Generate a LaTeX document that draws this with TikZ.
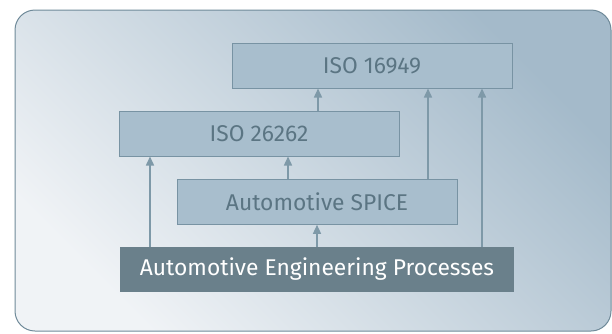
\documentclass[tikz,border=0pt]{standalone}
\usepackage{fontspec}
\setmainfont{Fira Sans}
\usetikzlibrary{arrows.meta,positioning}

\definecolor{frameline}{HTML}{6F8A99}
\definecolor{bglight}{HTML}{F0F3F6}
\definecolor{bgdark}{HTML}{A4BACA}
\definecolor{boxfill}{HTML}{A8BECD}
\definecolor{boxline}{HTML}{7893A3}
\definecolor{boxtext}{HTML}{5B7583}
\definecolor{basefill}{HTML}{6A808B}
\definecolor{arrowcol}{HTML}{7E99A8}

\begin{document}
\begin{tikzpicture}[
        x=1pt, y=-1pt,
        every node/.style={inner sep=0pt, align=center, font=\fontsize{22.8}{27}\selectfont},
        stdbox/.style={draw=boxline, line width=1pt, fill=boxfill, text=boxtext, minimum width=280pt, minimum height=45pt},
        basebox/.style={fill=basefill, text=white, minimum width=394pt, minimum height=45pt},
        arr/.style={draw=arrowcol, line width=1.5pt, -{Triangle[width=8pt,length=9pt]}}
    ]

    \useasboundingbox (0,0) rectangle (612,333);

    % Background
    \shade[draw=frameline, line width=1pt, rounded corners=20pt, shading=axis,
        top color=bgdark, bottom color=bglight, shading angle=-45]
        (15,10) rectangle (611,331);

    % Nodes
    \node (aep) [basebox] at (317,269.5) {Automotive Engineering Processes};
    \node (spice) [stdbox, above=22pt of aep] {Automotive SPICE};
    \node (iso26262) [stdbox] at (259,133.5) {ISO 26262};
    \node (iso16949) [stdbox] at (372,65.5) {ISO 16949};

    % Edges
    \draw[arr] (aep.north) -- (spice.south);
    \draw[arr] ([xshift=-167pt]aep.north) -- ([xshift=-109pt]iso26262.south);
    \draw[arr] ([xshift=-29pt]spice.north) -- ([xshift=29pt]iso26262.south);
    \draw[arr] ([xshift=59pt]iso26262.north) -- ([xshift=-54pt]iso16949.south);
    \draw[arr] ([xshift=111pt]spice.north) -- ([xshift=56pt]iso16949.south);
    \draw[arr] ([xshift=165pt]aep.north) -- ([xshift=110pt]iso16949.south);

\end{tikzpicture}
\end{document}
